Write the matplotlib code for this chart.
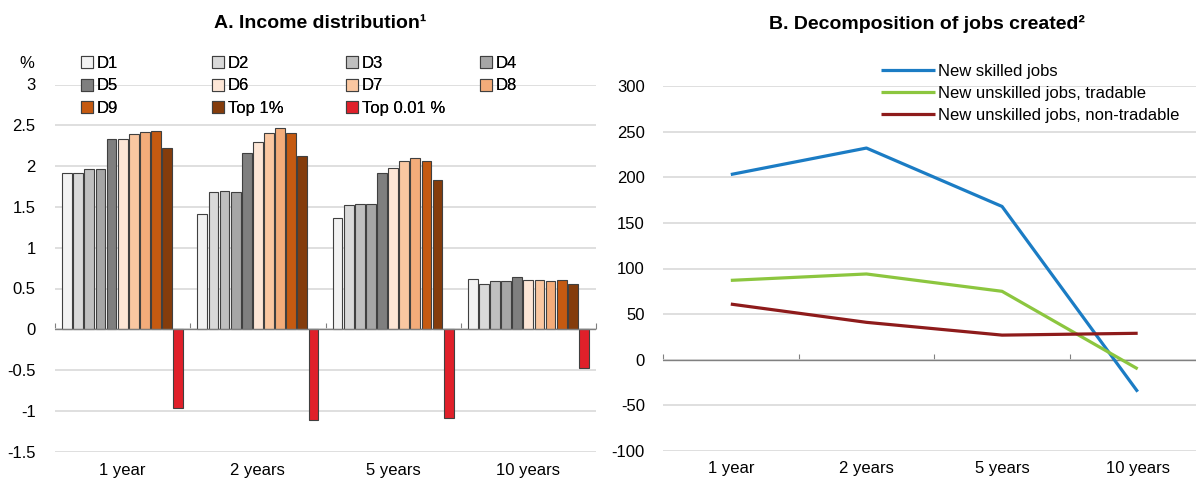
import numpy as np
import matplotlib
matplotlib.use('Agg')
import matplotlib.pyplot as plt

plt.rcParams['font.family'] = ['Liberation Sans Narrow', 'Liberation Sans', 'DejaVu Sans']
plt.rcParams['font.size'] = 12
plt.rcParams['axes.unicode_minus'] = False

# panel A data
horizons = ['1 year', '2 years', '5 years', '10 years']
groups = ['D1', 'D2', 'D3', 'D4', 'D5', 'D6', 'D7', 'D8', 'D9', 'Top 1%', 'Top 0.01 %']
d1 = [1.91, 1.41, 1.36, 0.62]
d2 = [1.91, 1.68, 1.52, 0.56]
d3 = [1.96, 1.70, 1.54, 0.59]
d4 = [1.97, 1.68, 1.53, 0.59]
d5 = [2.33, 2.16, 1.91, 0.64]
d6 = [2.33, 2.30, 1.98, 0.60]
d7 = [2.39, 2.40, 2.06, 0.60]
d8 = [2.42, 2.47, 2.10, 0.59]
d9 = [2.43, 2.41, 2.06, 0.60]
top1 = [2.22, 2.12, 1.83, 0.55]
top001 = [-0.96, -1.11, -1.09, -0.48]
bar_colors = ['#F2F2F2', '#D9D9D9', '#BFBFBF', '#A6A6A6', '#7F7F7F',
              '#FDE6D6', '#FAC7A1', '#F3AC7A', '#C55A11', '#843C0C', '#E0202A']

# panel B data
skilled = [203, 232, 168, -35]
unskilled_trad = [87, 94, 75, -10]
unskilled_nontrad = [61, 41, 27, 29]
line_names = ['New skilled jobs', 'New unskilled jobs, tradable',
              'New unskilled jobs, non-tradable']
line_colors = ['#1B7CC4', '#8CC63F', '#8E1B1B']

GRID = '#D9D9D9'
fig = plt.figure(figsize=(11.96, 4.79), dpi=100)

# ---------- panel A ----------
ax1 = fig.add_axes([55 / 1196, 1 - 451.7 / 479, 541 / 1196, 367.2 / 479])
x = np.arange(len(horizons))
slot = 0.904 / len(groups)
series = [d1, d2, d3, d4, d5, d6, d7, d8, d9, top1, top001]
bars = []
for j, vals in enumerate(series):
    b = ax1.bar(x + (j - 5) * slot, vals, width=slot * 0.88, color=bar_colors[j],
                edgecolor='#404040', linewidth=0.8, zorder=3, label=groups[j])
    bars.append(b)
ax1.set_xlim(-0.5, 3.5)
ax1.set_ylim(-1.5, 3)
ax1.set_yticks(np.arange(-1.5, 3.01, 0.5))
ax1.set_yticklabels(['-1.5', '-1', '-0.5', '0', '0.5', '1', '1.5', '2', '2.5', '3'])
ax1.set_xticks(x)
ax1.set_xticklabels(horizons)
ax1.grid(axis='y', color=GRID, linewidth=1.2, zorder=0)
ax1.axhline(0, color='#808080', linewidth=1.0, zorder=4)
for s in ax1.spines.values():
    s.set_visible(False)
ax1.tick_params(axis='both', length=0, labelsize=12, colors='#000000')
ax1.tick_params(axis='y', pad=14)
ax1.tick_params(axis='x', pad=8)
sec1 = ax1.secondary_xaxis(1.5 / 4.5)
sec1.set_xticks(np.arange(-0.5, 3.6, 1.0))
sec1.tick_params(direction='in', length=4, color='#808080', labelbottom=False)
sec1.spines['bottom'].set_visible(False)
fig.text(27 / 1196, 1 - 64 / 479, '%', ha='center', va='center', fontsize=12)
fig.text(320 / 1196, 1 - 24 / 479, 'A. Income distribution\u00b9', ha='center', va='center',
         fontsize=14, fontweight='bold')

# legend as four columns, filled row by row
col_x = [81, 212, 346, 480]
for c in range(4):
    idx = list(range(c, len(groups), 4))
    leg = fig.legend([bars[i] for i in idx], [groups[i] for i in idx], loc='upper left',
                     bbox_to_anchor=(col_x[c] / 1196, 1 - 56 / 479), frameon=False,
                     handlelength=0.7, handleheight=0.7, handletextpad=0.25,
                     labelspacing=0.45, borderaxespad=0, borderpad=0, fontsize=12)
    fig.add_artist(leg)

# ---------- panel B ----------
ax2 = fig.add_axes([663 / 1196, 1 - 451 / 479, 533 / 1196, 365 / 479])
for vals, name, col in zip([skilled, unskilled_trad, unskilled_nontrad], line_names, line_colors):
    ax2.plot(x, vals, color=col, linewidth=2.3, label=name, zorder=3,
             solid_capstyle='butt')
ax2.set_xlim(-0.5, 3.43)
ax2.set_ylim(-100, 300)
ax2.set_yticks(np.arange(-100, 301, 50))
ax2.set_xticks(x)
ax2.set_xticklabels(horizons)
ax2.grid(axis='y', color=GRID, linewidth=1.2, zorder=0)
ax2.axhline(0, color='#808080', linewidth=1.0, zorder=2)
for s in ax2.spines.values():
    s.set_visible(False)
ax2.tick_params(axis='both', length=0, labelsize=12, colors='#000000')
ax2.tick_params(axis='y', pad=13)
ax2.tick_params(axis='x', pad=7)
sec2 = ax2.secondary_xaxis(100 / 400)
sec2.set_xticks(np.arange(-0.5, 3.0, 1.0))
sec2.tick_params(direction='in', length=4, color='#808080', labelbottom=False)
sec2.spines['bottom'].set_visible(False)
fig.text(927 / 1196, 1 - 24 / 479, 'B. Decomposition of jobs created\u00b2', ha='center',
         va='center', fontsize=14, fontweight='bold')
ax2.legend(loc='upper left', bbox_to_anchor=(881 / 1196, 1 - 64 / 479),
           bbox_transform=fig.transFigure, frameon=False, handlelength=3.25,
           handletextpad=0.15, labelspacing=0.42, borderaxespad=0, borderpad=0, fontsize=12)

fig.savefig('out.png', dpi=100)
